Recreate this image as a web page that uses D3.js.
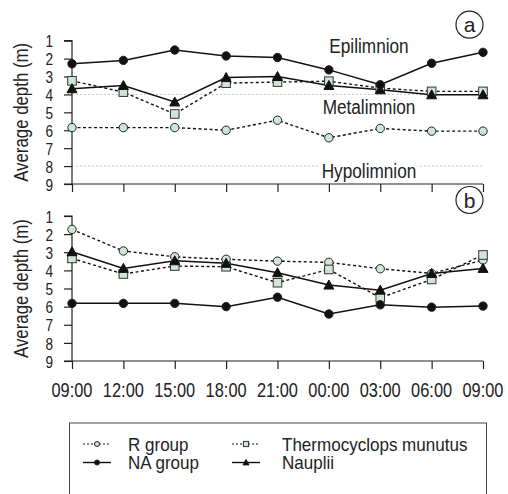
<!DOCTYPE html>
<html><head><meta charset="utf-8">
<script src="https://cdn.jsdelivr.net/npm/d3@7"></script>
<style>
html,body{margin:0;padding:0;background:#fff;}
svg{display:block;}
.nar{font-family:"Liberation Sans",Arial,sans-serif;}
.reg{font-family:"Liberation Sans",Arial,sans-serif;}
</style>
</head><body>
<svg id="chart" width="508" height="494"></svg>
<script>
const times = ["09:00","12:00","15:00","18:00","21:00","00:00","03:00","06:00","09:00"];
const depthTicks = [1,2,3,4,5,6,7,8,9];
const zoneLabels = ["Epilimnion","Metalimnion","Hypolimnion"];
const zoneBounds = [4,8];

// Panel a
const aRGroup   = [5.85,5.85,5.85,6.0,5.44,6.42,5.9,6.05,6.05];
const aNAGroup  = [2.29,2.1,1.52,1.85,1.94,2.63,3.46,2.26,1.65];
const aThermo   = [3.24,3.87,5.09,3.37,3.31,3.26,3.65,3.83,3.83];
const aNauplii  = [3.68,3.5,4.42,3.06,3.0,3.5,3.74,4.02,4.02];
// Panel b
const bRGroup   = [1.74,2.93,3.25,3.39,3.49,3.56,3.91,4.17,3.43];
const bNAGroup  = [5.82,5.82,5.82,6.0,5.48,6.41,5.9,6.03,5.97];
const bThermo   = [3.34,4.2,3.76,3.8,4.68,3.95,5.51,4.5,3.15];
const bNauplii  = [2.97,3.89,3.47,3.61,4.13,4.81,5.09,4.17,3.89];

const seriesNames = ["R group","NA group","Thermocyclops munutus","Nauplii"];

const fillC = "#cfe6d6";
const styles = {
  "R group": {dash:"3,2.5", marker:"circle", fill:fillC},
  "NA group": {dash:null, marker:"circle", fill:"#111"},
  "Thermocyclops munutus": {dash:"3,2.5", marker:"square", fill:fillC},
  "Nauplii": {dash:null, marker:"triangle", fill:"#111"}
};

// condense text horizontally (narrow face not installed)
function narrow(sel, f){
  sel.each(function(){
    const len = this.getComputedTextLength();
    d3.select(this).attr("textLength", len*f).attr("lengthAdjust","spacingAndGlyphs");
  });
}

const svg = d3.select("#chart");
const x = d3.scalePoint().domain(d3.range(times.length)).range([72,483]);

function drawMarker(g, type, cx, cy, fill, s){
  if(type==="circle"){
    g.append("circle").attr("cx",cx).attr("cy",cy).attr("r",4.2*s)
      .attr("fill",fill).attr("stroke","#222").attr("stroke-width",1);
  } else if(type==="square"){
    const h=4.3*s;
    g.append("rect").attr("x",cx-h).attr("y",cy-h).attr("width",2*h).attr("height",2*h)
      .attr("fill",fill).attr("stroke","#333").attr("stroke-width",1);
  } else {
    const h=5*s;
    g.append("path").attr("d",`M${cx},${cy-h} L${cx+h},${cy+h*0.8} L${cx-h},${cy+h*0.8}Z`)
      .attr("fill",fill).attr("stroke","#111").attr("stroke-width",1);
  }
}

function panel(top, bottom, data, letter, zones){
  const y = d3.scaleLinear().domain([1,9]).range([top,bottom]);
  const g = svg.append("g");
  if(zones){
    zoneBounds.forEach(d=>{
      g.append("line").attr("x1",72).attr("x2",483).attr("y1",y(d)).attr("y2",y(d))
        .attr("stroke","#c8c8c8").attr("stroke-width",1).attr("stroke-dasharray","2,2");
    });
    const ly = [y(1.71), y(5.1), y(8.65)];
    zoneLabels.forEach((t,i)=>{
      const tx = g.append("text").attr("class","nar").attr("x",369).attr("y",ly[i])
        .attr("text-anchor","middle").attr("font-size",20).attr("fill","#222").text(t);
      narrow(tx, 0.86);
      if(i===2){
        const bb = tx.node().getBBox();
        g.insert("rect", "text").attr("x",bb.x-1).attr("y",y(8)-2).attr("width",bb.width+2).attr("height",4).attr("fill","#fff");
      }
    });
  }
  // axes
  const yAxis = d3.axisLeft(y).tickValues(depthTicks).tickSize(8).tickPadding(11).tickFormat(d3.format("d"));
  const ga = g.append("g").attr("transform","translate(72,0)").call(yAxis);
  ga.select(".domain").attr("stroke","#222").attr("stroke-width",1.2).attr("d",`M-8,${top}H0V${bottom}H-8`);
  ga.selectAll(".tick line").attr("stroke","#222").attr("stroke-width",1.2);
  const yt = ga.selectAll("text").attr("class","nar").attr("font-size",17).attr("fill","#222").attr("dy","0.36em");
  narrow(yt, 0.8);
  const xAxis = d3.axisBottom(x).tickSize(8).tickFormat(()=>"");
  const gx = g.append("g").attr("transform",`translate(0,${bottom})`).call(xAxis);
  gx.select(".domain").attr("stroke","#222").attr("stroke-width",1.2).attr("d","M72,0H483");
  gx.selectAll(".tick line").attr("stroke","#222").attr("stroke-width",1.2);
  ga.select(".domain").raise();

  // y title
  const tt = g.append("text").attr("class","nar").attr("transform",`translate(28,${(top+bottom)/2}) rotate(-90)`)
    .attr("text-anchor","middle").attr("font-size",20.5).attr("fill","#222").text("Average depth (m)");
  narrow(tt, 0.82);

  // lines then markers
  const line = d3.line().x((d,i)=>x(i)).y(d=>y(d));
  data.forEach(([name,vals])=>{
    const st = styles[name];
    g.append("path").datum(vals).attr("d",line).attr("fill","none").attr("stroke","#111")
      .attr("stroke-width",st.dash?1.4:1.5).attr("stroke-dasharray",st.dash);
  });
  data.forEach(([name,vals])=>{
    const st = styles[name];
    const mg = g.append("g");
    vals.forEach((v,i)=>drawMarker(mg, st.marker, x(i), y(v), st.fill, 1));
  });

  // letter
  const lc = g.append("g").attr("transform",`translate(469.5,${top-16})`);
  lc.append("circle").attr("r",13.5).attr("fill","#fff").attr("stroke","#222").attr("stroke-width",1.2);
  lc.append("text").attr("class","reg").attr("text-anchor","middle").attr("dy","0.36em")
    .attr("font-size",21).attr("fill","#222").text(letter);
}

panel(40.7,184,[["R group",aRGroup],["Thermocyclops munutus",aThermo],["Nauplii",aNauplii],["NA group",aNAGroup]],"a",true);
panel(216,361,[["R group",bRGroup],["Thermocyclops munutus",bThermo],["Nauplii",bNauplii],["NA group",bNAGroup]],"b",false);

// x tick labels (under panel b)
const xl = svg.append("g").selectAll("text").data(times).join("text").attr("class","nar")
  .attr("x",(d,i)=>x(i)).attr("y",397).attr("text-anchor","middle").attr("font-size",19.5)
  .attr("fill","#222").text(d=>d);
narrow(xl, 0.84);

// legend
const lg = svg.append("g");
lg.append("rect").attr("x",69.5).attr("y",423).attr("width",417).attr("height",90)
  .attr("fill","none").attr("stroke","#444").attr("stroke-width",1);
const legPos = [[83,444,128],[83,462.5,128],[232,444,282],[232,462.5,282]];
seriesNames.forEach((n,i)=>{
  const [lx,ly,tx]=legPos[i]; const st=styles[n];
  lg.append("line").attr("x1",lx).attr("x2",lx+28).attr("y1",ly).attr("y2",ly)
    .attr("stroke","#111").attr("stroke-width",st.dash?1:1.4).attr("stroke-dasharray",st.dash?"2,2":null);
  drawMarker(lg, st.marker, lx+14, ly, st.fill, 0.6);
  const t = lg.append("text").attr("class","reg").attr("x",tx).attr("y",ly+6.5).attr("font-size",18.5)
    .attr("fill","#222").text(n);
  narrow(t, 0.92);
});
</script>
</body></html>
